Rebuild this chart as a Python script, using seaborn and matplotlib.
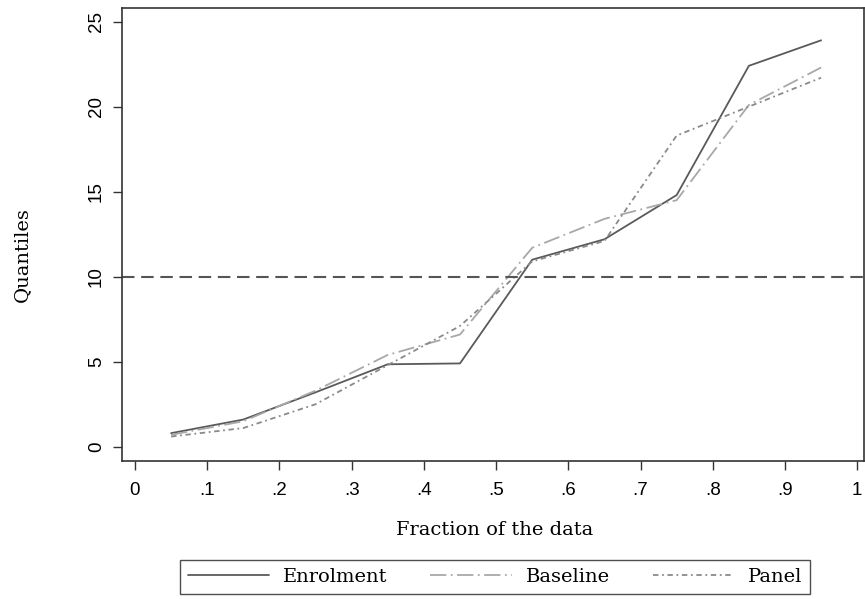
import numpy as np
import pandas as pd
import matplotlib
matplotlib.use("Agg")
import matplotlib.pyplot as plt
import seaborn as sns
from matplotlib.lines import Line2D

fractions = [0.05, 0.15, 0.25, 0.35, 0.45, 0.55, 0.65, 0.75, 0.85, 0.95]
enrolment = [0.8, 1.6, 3.2, 4.85, 4.9, 11.0, 12.2, 14.8, 22.4, 23.9]
baseline = [0.7, 1.5, 3.3, 5.4, 6.6, 11.7, 13.4, 14.5, 20.1, 22.3]
panel = [0.6, 1.1, 2.5, 4.8, 7.1, 10.9, 12.1, 18.3, 20.0, 21.7]
series_names = ["Enrolment", "Baseline", "Panel"]
xtick_vals = [0, 0.1, 0.2, 0.3, 0.4, 0.5, 0.6, 0.7, 0.8, 0.9, 1.0]
xtick_labels = ["0", ".1", ".2", ".3", ".4", ".5", ".6", ".7", ".8", ".9", "1"]
ytick_vals = [0, 5, 10, 15, 20, 25]
ref_line = 10

sns.set_theme(style="white")
plt.rcParams['font.family'] = ['Liberation Sans', 'DejaVu Sans']
plt.rcParams['text.color'] = 'black'
plt.rcParams['xtick.color'] = 'black'
plt.rcParams['ytick.color'] = 'black'

df = pd.DataFrame({
    "x": fractions * 3,
    "y": enrolment + baseline + panel,
    "series": [s for s in series_names for _ in fractions],
})

colors = {"Enrolment": "#5a5a5a", "Baseline": "#a8a8a8", "Panel": "#8a8a8a"}
dashes = {"Enrolment": "", "Baseline": (9, 2.5, 1, 2.5), "Panel": (3, 2, 1, 2)}

fig = plt.figure(figsize=(8.65, 5.99), dpi=100)
ax = fig.add_axes([121.7 / 865, 1 - 460.7 / 599, (864 - 121.7) / 865, (460.7 - 8) / 599])

sns.lineplot(data=df, x="x", y="y", hue="series", style="series",
             palette=colors, dashes=dashes, linewidth=1.3, ax=ax, legend=False)

ax.axhline(ref_line, color="#555555", linestyle=(0, (6, 3.2)), linewidth=1.5)

ax.set_xlim(-0.0184, 1.0094)
ax.set_ylim(-0.82, 25.8)
ax.set_xticks(xtick_vals)
ax.set_xticklabels(xtick_labels, fontsize=13.5)
ax.set_yticks(ytick_vals)
ax.set_yticklabels([str(v) for v in ytick_vals], fontsize=13.5, rotation=90, va="center")
ax.tick_params(axis="x", direction="out", length=6.5, width=1.0, color="#333333",
               labelcolor="black", bottom=True, pad=8.5)
ax.tick_params(axis="y", direction="out", length=6.5, width=1.0, color="#333333",
               labelcolor="black", left=True, pad=5.5)
for s in ax.spines.values():
    s.set_color("#333333")
    s.set_linewidth(1.2)

ax.set_xlabel("")
ax.set_ylabel("")
serif = "DejaVu Serif"
fig.text(495 / 865, 1 - 530 / 599, "Fraction of the data", family=serif,
         fontsize=14, ha="center", va="center", color="black")
fig.text(22 / 865, 1 - 255 / 599, "Quantiles", family=serif,
         fontsize=14, ha="center", va="center", rotation=90, color="black")

handles = [Line2D([], [], color=colors[n], linewidth=1.3,
                  linestyle=(0, dashes[n]) if dashes[n] else "-") for n in series_names]
leg = fig.legend(handles, series_names, ncol=3, loc="center",
                 bbox_to_anchor=(495 / 865, 1 - 577 / 599),
                 frameon=True, fancybox=False, prop={"family": serif, "size": 14},
                 handlelength=4.2, columnspacing=2.2, handletextpad=0.7, borderpad=0.4)
leg.get_frame().set_edgecolor("#222222")
leg.get_frame().set_linewidth(1.0)
for t in leg.get_texts():
    t.set_color("black")

fig.savefig("out.png", dpi=100)
